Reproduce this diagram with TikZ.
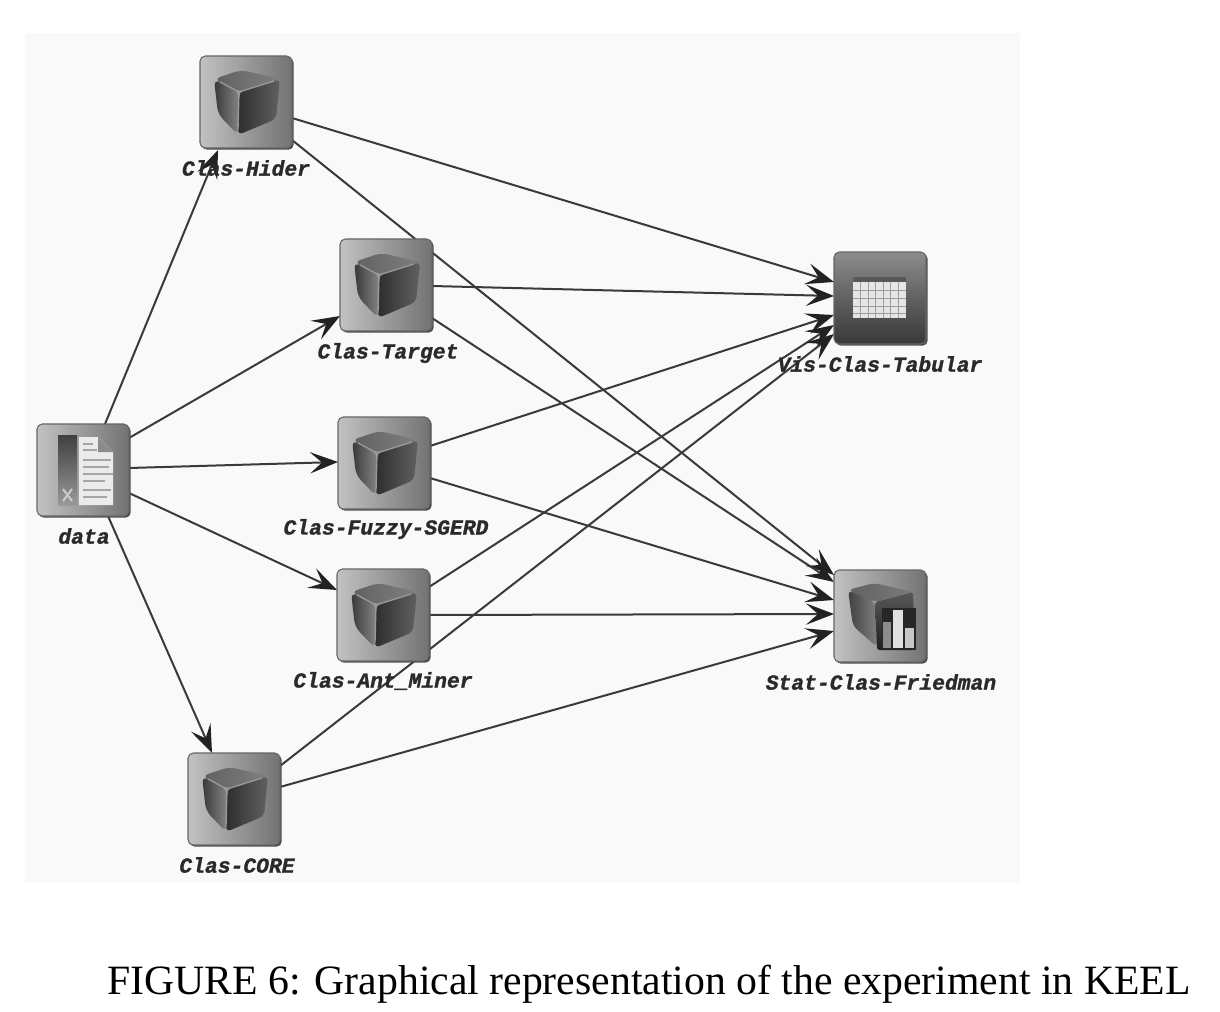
\documentclass[tikz,border=0pt]{standalone}
\usepackage{fontspec}
\setmainfont{Liberation Serif}
\newfontfamily\keelfont[BoldItalicFeatures={FakeBold=1.2}]{Liberation Mono}
\usetikzlibrary{arrows.meta,calc,shadows}
\pgfdeclarelayer{panel}
\pgfdeclarelayer{edgelayer}
\pgfsetlayers{panel,edgelayer,main}
\definecolor{linecol}{HTML}{3A3A3A}
\definecolor{tipcol}{HTML}{222222}
\definecolor{panelcol}{HTML}{F9F9F9}
\definecolor{labelcol}{HTML}{2A2A2A}
\tikzset{
  iconbox/.style={minimum size=69pt,inner sep=0pt,outer sep=0pt,rounded corners=4pt,draw=black!60,line width=.8pt,
    general shadow={shadow xshift=1.3pt,shadow yshift=-1.3pt,fill=black!70,rounded corners=4pt},
    shading angle=45,left color=black!24,middle color=black!30,right color=black!55},
  darkbox/.style={iconbox,shading angle=0,top color=black!45,bottom color=black!78,middle color=black!62},
  edgeline/.style={draw=linecol,line width=1.5pt,-{Stealth[length=21pt,width=16pt,inset=9pt,color=tipcol]}},
  keel/.style={font=\keelfont\bfseries\itshape\fontsize{16}{16}\selectfont,text=labelcol,inner sep=0pt},
  cube/.pic={
    \shade[left color=black!78,right color=black!48,rounded corners=5pt] (-32,-23)--(-7,-10)--(-8,33)--(-28,12)--cycle;
    \shade[left color=black!82,right color=black!62,rounded corners=4pt] (-7,-10)--(34,-23)--(30,17)--(-8,33)--cycle;
    \shade[left color=black!62,right color=black!50,rounded corners=5pt] (-32,-23)--(-5,-32)--(34,-23)--(-7,-10)--cycle;
    \draw[black!40,line width=1pt] (-26,-20)--(-7,-10)--(28,-21);
    \draw[black!40,line width=1pt] (-7,-10)--(-8,28);
  },
  tablegrid/.pic={
    \fill[black!10] (-27,-21) rectangle (26,20);
    \fill[black!65] (-27,-21) rectangle (26,-16);
    \foreach \gx in {-19.5,-12,-4.5,3,10.5,18} {\draw[black!38,line width=.7pt] (\gx,-16)--(\gx,20);}
    \foreach \gy in {-8,0,8,15} {\draw[black!38,line width=.7pt] (-27,\gy)--(26,\gy);}
  },
  statcube/.pic={
    \shade[left color=black!75,right color=black!50,rounded corners=4pt] (-32,-26)--(-5,-14)--(-3,31)--(-27,10)--cycle;
    \shade[top color=black!65,bottom color=black!88,rounded corners=2pt] (-5,-14)--(33,-24)--(35,34)--(-3,34)--cycle;
    \shade[left color=black!62,right color=black!52,rounded corners=4pt] (-32,-26)--(-6,-33)--(33,-24)--(-5,-14)--cycle;
    \fill[black!85] (2,-8) rectangle (36,34);
    \fill[black!45] (3,6) rectangle (11,32);
    \fill[black!12] (13,-6) rectangle (23,32);
    \fill[black!22] (25,12) rectangle (34,32);
  },
  datadoc/.pic={
    \shade[top color=black!75,bottom color=black!40] (-25,-35) rectangle (-6,35);
    \draw[black!20,line width=1.5pt] (-20,19)--(-11,31) (-20,31)--(-11,19);
    \fill[black!8] (-4,-33)--(15,-33)--(30,-18)--(30,35)--(-4,35)--cycle;
    \fill[black!45] (15,-33)--(30,-18)--(15,-18)--cycle;
    \foreach \ly/\lw in {-26/10,-20/14,-10/28,-3/26,4/30,11/22,20/28,27/24} {\draw[black!35,line width=1.1pt] (0,\ly)--++(\lw,0);}
  }
}
\begin{document}
\begin{tikzpicture}[x=.75pt,y=-.75pt]
\useasboundingbox (0,0) rectangle (1220,1012);
\begin{pgfonlayer}{panel}
\fill[white] (0,0) rectangle (1220,1012);
\fill[panelcol] (25,33) rectangle (1020,883);
\end{pgfonlayer}

\node[iconbox] (hider) at (246,102) {};
\node[iconbox] (target) at (386,285) {};
\node[iconbox] (fuzzy) at (384,463) {};
\node[iconbox] (ant) at (383,615) {};
\node[iconbox] (core) at (234,799) {};
\node[iconbox] (data) at (83,470) {};
\node[darkbox] (vis) at (880,298) {};
\node[iconbox] (stat) at (880,616) {};

\pic at (hider) {cube};
\pic at (target) {cube};
\pic at (fuzzy) {cube};
\pic at (ant) {cube};
\pic at (core) {cube};
\pic at (data) {datadoc};
\pic at (vis) {tablegrid};
\pic at (stat) {statcube};

\node[keel] (lhider) at (246,168) {Clas-Hider};
\node[keel] (ltarget) at (388,353) {Clas-Target};
\node[keel] (lfuzzy) at (386,529) {Clas-Fuzzy-SGERD};
\node[keel] (lant) at (383,681) {Clas-Ant\_Miner};
\node[keel] (lcore) at (237,865) {Clas-CORE};
\node[keel] (ldata) at (84,536) {data};
\node[keel] (lvis) at (880,364) {Vis-Clas-Tabular};
\node[keel] (lstat) at (881,682) {Stat-Clas-Friedman};

\node[inner sep=0pt,font=\fontsize{31.3}{33}\selectfont,text=black] (caption) at (649,984) {FIGURE 6: Graphical representation of the experiment in KEEL};

\begin{pgfonlayer}{edgelayer}
\draw[edgeline] ($(data.north)+(22,0)$) -- ($(hider.south)+(-28,2)$);
\draw[edgeline] ($(data.east)+(0,-32)$) -- ($(target.west)+(0,31)$);
\draw[edgeline] ($(data.east)+(0,-2)$) -- ($(fuzzy.west)+(0,-1)$);
\draw[edgeline] ($(data.east)+(0,23)$) -- ($(ant.west)+(0,-25)$);
\draw[edgeline] ($(data.south)+(25,0)$) -- ($(core.north)+(-22,0)$);

\draw[edgeline] ($(hider.east)+(0,16)$) -- ($(vis.west)+(0,-16)$);
\draw[edgeline] ($(target.east)+(0,1)$) -- ($(vis.west)+(0,-2)$);
\draw[edgeline] ($(fuzzy.east)+(0,-17)$) -- ($(vis.west)+(0,17)$);
\draw[edgeline] ($(ant.east)+(0,-28)$) -- ($(vis.west)+(0,27)$);
\draw[edgeline] ($(core.east)+(0,-33)$) -- ($(vis.west)+(0,36)$);

\draw[edgeline] ($(hider.east)+(0,38)$) -- ($(stat.west)+(0,-41)$);
\draw[edgeline] ($(target.east)+(0,33)$) -- ($(stat.west)+(0,-34)$);
\draw[edgeline] ($(fuzzy.east)+(0,15)$) -- ($(stat.west)+(0,-16)$);
\draw[edgeline] ($(ant.east)+(0,0)$) -- ($(stat.west)+(0,-2)$);
\draw[edgeline] ($(core.east)+(0,-12)$) -- ($(stat.west)+(0,15)$);
\end{pgfonlayer}
\end{tikzpicture}
\end{document}
